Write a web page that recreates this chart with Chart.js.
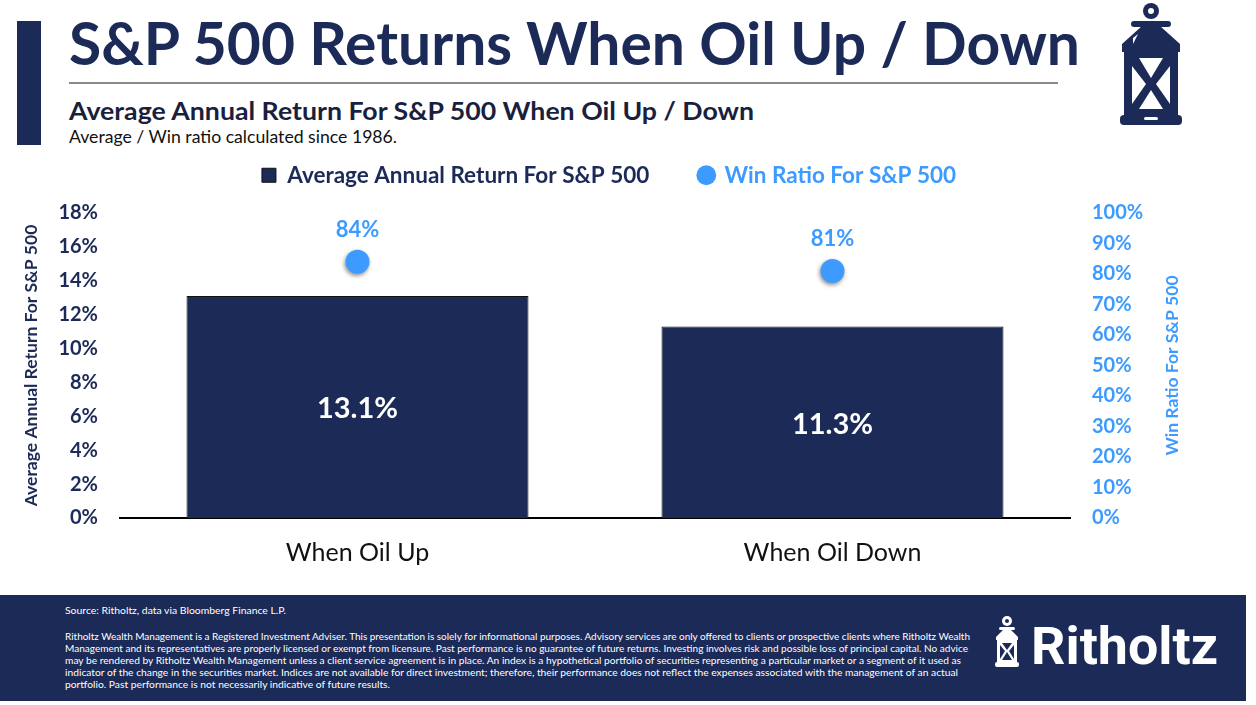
<!DOCTYPE html>
<html>
<head>
<meta charset="utf-8">
<script src="https://cdn.jsdelivr.net/npm/chart.js@4.4.1/dist/chart.umd.min.js"></script>
<style>
  html, body { margin: 0; padding: 0; background: #fff; }
  #page { position: relative; width: 1256px; height: 705px; overflow: hidden; font-family: Lato, "Noto Sans", sans-serif; }
  .txt { position: absolute; white-space: nowrap; line-height: 1; transform-origin: 0 0; }
  #title { left: 69px; top: 12px; font-size: 60px; font-weight: 700; color: #1b2a57; }
  #rule { position: absolute; left: 69px; top: 82px; width: 989px; height: 2px; background: #8a8a8a; }
  #sub { left: 69px; top: 98px; font-size: 25px; font-weight: 700; color: #1a1f3d; }
  #note { left: 69px; top: 128px; font-size: 17px; color: #111; }
  #sidebar { position: absolute; left: 17px; top: 21px; width: 24px; height: 124px; background: #1b2a57; }
  #footer { position: absolute; left: 0; top: 595px; width: 1246px; height: 106px; background: #1b2a57; }
  .foot { position: absolute; left: 65px; color: #fff; font-size: 10px; white-space: nowrap; line-height: 1; transform-origin: 0 0; }
  #brand { left: 1031px; top: 621px; font-family: Roboto, sans-serif; font-size: 51px; font-weight: 700; color: #fff; }
  #chart { position: absolute; left: 0; top: 0; }
  svg.art { position: absolute; left: 0; top: 0; }
</style>
</head>
<body>
<div id="page">
  <div id="sidebar"></div>
  <div class="txt" id="title">S&amp;P 500 Returns When Oil Up / Down</div>
  <div id="rule"></div>
  <div class="txt" id="sub">Average Annual Return For S&amp;P 500 When Oil Up / Down</div>
  <div class="txt" id="note">Average / Win ratio calculated since 1986.</div>

  <div id="footer"></div>
  <div class="foot" id="src" style="top:605px">Source: Ritholtz, data via Bloomberg Finance L.P.</div>
  <div class="foot" id="d1" style="top:631px">Ritholtz Wealth Management is a Registered Investment Adviser. This presentation is solely for informational purposes. Advisory services are only offered to clients or prospective clients where Ritholtz Wealth</div>
  <div class="foot" id="d2" style="top:643px">Management and its representatives are properly licensed or exempt from licensure. Past performance is no guarantee of future returns. Investing involves risk and possible loss of principal capital. No advice</div>
  <div class="foot" id="d3" style="top:655px">may be rendered by Ritholtz Wealth Management unless a client service agreement is in place. An index is a hypothetical portfolio of securities representing a particular market or a segment of it used as</div>
  <div class="foot" id="d4" style="top:667px">indicator of the change in the securities market. Indices are not available for direct investment; therefore, their performance does not reflect the expenses associated with the management of an actual</div>
  <div class="foot" id="d5" style="top:679px">portfolio. Past performance is not necessarily indicative of future results.</div>
  <div class="txt" id="brand">Ritholtz</div>

  <!-- lantern icons -->
  <svg class="art" width="1256" height="705">
    <g fill="#1b2a57">
      <circle cx="1151" cy="11" r="8"/>
      <rect x="1131" y="21" width="40" height="6" rx="3"/>
      <polygon points="1142,26 1160,26 1180,44 1180,52 1122,52 1122,44"/>
      <rect x="1124" y="50" width="54" height="68"/>
      <rect x="1120" y="115" width="62" height="10" rx="4"/>
    </g>
    <g fill="#fff">
      <circle cx="1151" cy="11" r="3"/>
      <polygon points="1139,58 1163,58 1151,78"/>
      <polygon points="1151,90 1163,109 1139,109"/>
      <polygon points="1132,66 1146,84 1132,104"/>
      <polygon points="1170,66 1156,84 1170,104"/>
      <polygon points="1133,38 1138,34 1133,44"/>
      <rect x="1144" y="117" width="14" height="3" rx="1.5"/>
    </g>
    <g fill="#fff">
      <circle cx="1007" cy="621" r="5"/>
      <rect x="999" y="627" width="16" height="3" rx="1.5"/>
      <polygon points="1004,629 1010,629 1018,637 1018,640 996,640 996,637"/>
      <rect x="997" y="639" width="20" height="24"/>
      <rect x="995" y="662" width="24" height="5" rx="2"/>
    </g>
    <g fill="#1b2a57">
      <circle cx="1007" cy="621" r="2"/>
      <polygon points="1002,643 1012,643 1007,650"/>
      <polygon points="1007,652 1012,660 1002,660"/>
      <polygon points="1000,645 1005,651 1000,659"/>
      <polygon points="1014,645 1009,651 1014,659"/>
    </g>
  </svg>

  <canvas id="chart" width="1256" height="705"></canvas>
</div>

<script>
// chart data
const categories = ["When Oil Up", "When Oil Down"];
const avgReturn = [13.1, 11.3];     // % average annual return
const winRatio = [84, 81];          // % win ratio
const leftTicks = [0, 2, 4, 6, 8, 10, 12, 14, 16, 18];
const rightTicks = [0, 10, 20, 30, 40, 50, 60, 70, 80, 90, 100];

const NAVY = "#1b2a57";
const BLUE = "#3d9bff";
const FONT = "Lato, 'Noto Sans', sans-serif";

// squeeze a text block to a target width (header text uses a wider font than the original)
function fitWidth(id, w) {
  const el = document.getElementById(id);
  const cur = el.getBoundingClientRect().width;
  if (cur > 0) el.style.transform = "scaleX(" + (w / cur) + ")";
}
fitWidth("title", 1011);
fitWidth("sub", 685);
fitWidth("note", 328);
fitWidth("src", 221);
fitWidth("d1", 905);
fitWidth("d2", 903);
fitWidth("d3", 896);
fitWidth("d4", 893);
fitWidth("d5", 325);
fitWidth("brand", 187);

// shadow under the win-ratio dots
const dotShadow = {
  id: "dotShadow",
  beforeDatasetDraw(chart, args) {
    if (args.index !== 1) return;
    const ctx = chart.ctx;
    ctx.save();
    ctx.shadowColor = "rgba(0,0,0,0.45)";
    ctx.shadowBlur = 4;
    ctx.shadowOffsetX = -1;
    ctx.shadowOffsetY = 2;
  },
  afterDatasetDraw(chart, args) {
    if (args.index !== 1) return;
    chart.ctx.restore();
  },
};

// value labels + right axis title (reads bottom-to-top like the left one)
const valueLabels = {
  id: "valueLabels",
  afterDatasetsDraw(chart) {
    const ctx = chart.ctx;
    ctx.save();
    ctx.textAlign = "center";
    ctx.textBaseline = "middle";

    const bars = chart.getDatasetMeta(0).data;
    ctx.fillStyle = "#fff";
    ctx.font = `700 29px ${FONT}`;
    bars.forEach((b, i) => {
      ctx.fillText(avgReturn[i].toFixed(1) + "%", b.x, (b.y + b.base) / 2 + 2);
    });

    const pts = chart.getDatasetMeta(1).data;
    ctx.fillStyle = BLUE;
    ctx.font = `700 22px ${FONT}`;
    pts.forEach((p, i) => {
      ctx.fillText(winRatio[i] + "%", p.x, p.y - 32);
    });

    const y1 = chart.scales.y1;
    ctx.translate(1172, (y1.top + y1.bottom) / 2);
    ctx.rotate(-Math.PI / 2);
    ctx.font = `700 17.5px ${FONT}`;
    ctx.fillStyle = BLUE;
    ctx.fillText("Win Ratio For S&P 500", 0, 0);
    ctx.restore();
  },
};

// fixed legend height so the plot starts where the original does,
// and the legend row sits a bit left of centre like the original
const legendTweak = {
  id: "legendTweak",
  beforeInit(chart) {
    const legend = chart.legend;
    const fit = legend.fit;
    legend.fit = function () {
      fit.bind(legend)();
      this.height = 99;
    };
    const draw = legend.draw;
    legend.draw = function () {
      chart.ctx.save();
      chart.ctx.translate(-19, 0);
      draw.bind(legend)();
      chart.ctx.restore();
    };
  },
};

const ctx = document.getElementById("chart").getContext("2d");
new Chart(ctx, {
  data: {
    labels: categories,
    datasets: [
      {
        type: "bar",
        label: "Average Annual Return For S&P 500",
        data: avgReturn,
        yAxisID: "y",
        backgroundColor: NAVY,
        borderColor: "#111",
        borderWidth: 1,
        categoryPercentage: 1,
        barPercentage: 0.72,
        pointStyle: "rect",
      },
      {
        type: "line",
        label: "Win Ratio For S&P 500",
        data: winRatio,
        yAxisID: "y1",
        showLine: false,
        pointRadius: 12,
        pointHoverRadius: 12,
        pointBackgroundColor: BLUE,
        pointBorderWidth: 0,
        backgroundColor: BLUE,
        borderColor: BLUE,
        pointStyle: "circle",
      },
    ],
  },
  options: {
    responsive: false,
    animation: false,
    layout: { padding: { top: 114, left: 0, right: 0, bottom: 117 } },
    plugins: {
      tooltip: { enabled: false },
      legend: {
        position: "top",
        labels: {
          usePointStyle: true,
          boxWidth: 14,
          boxHeight: 14,
          padding: 50,
          font: { family: FONT, size: 22.5, weight: "700" },
          generateLabels(chart) {
            const items = Chart.defaults.plugins.legend.labels.generateLabels(chart);
            items.forEach((it) => {
              if (it.datasetIndex === 0) {
                it.fontColor = NAVY;
                it.strokeStyle = "#111";
                it.lineWidth = 1;
              } else {
                it.fontColor = BLUE;
                it.lineWidth = 0;
              }
            });
            return items.sort((a, b) => a.datasetIndex - b.datasetIndex);
          },
        },
      },
    },
    scales: {
      x: {
        grid: { display: false, drawTicks: false },
        border: { display: true, color: "#000", width: 2 },
        ticks: { color: "#111", padding: 20, font: { family: FONT, size: 25 } },
      },
      y: {
        position: "left",
        min: 0,
        max: 18,
        afterBuildTicks(s) { s.ticks = leftTicks.map((v) => ({ value: v })); },
        afterFit(s) { s.width = 120; },
        grid: { display: false, drawTicks: false },
        border: { display: false },
        ticks: {
          color: NAVY,
          padding: 22,
          font: { family: FONT, size: 20, weight: "700" },
          callback: (v) => v + "%",
        },
        title: {
          display: true,
          text: "Average Annual Return For S&P 500",
          color: NAVY,
          padding: { top: 21, bottom: 0 },
          font: { family: FONT, size: 17.5, weight: "700" },
        },
      },
      y1: {
        position: "right",
        min: 0,
        max: 100,
        afterBuildTicks(s) { s.ticks = rightTicks.map((v) => ({ value: v })); },
        afterFit(s) { s.width = 186; },
        grid: { display: false, drawTicks: false },
        border: { display: false },
        ticks: {
          color: BLUE,
          padding: 22,
          font: { family: FONT, size: 20, weight: "700" },
          callback: (v) => v + "%",
        },
      },
    },
  },
  plugins: [dotShadow, valueLabels, legendTweak],
});
</script>
</body>
</html>
